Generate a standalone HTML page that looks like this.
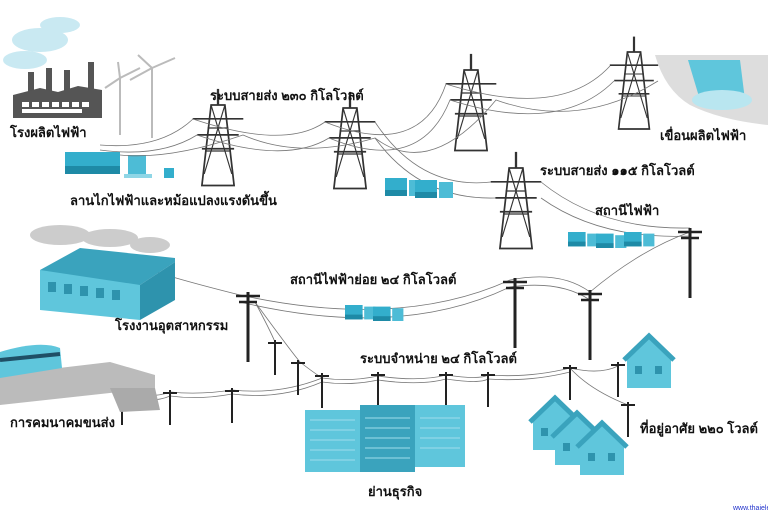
<!DOCTYPE html>
<html><head><meta charset="utf-8"><style>
html,body{margin:0;padding:0;background:#fff;}
svg{display:block}
text{font-family:"Liberation Sans","DejaVu Sans","Noto Sans CJK SC",sans-serif;font-weight:bold;font-size:13px;fill:#111}
</style></head><body>
<svg width="768" height="512" viewBox="0 0 768 512" xmlns="http://www.w3.org/2000/svg">
<defs>
<g id="tower">
<path d="M-6 0 L6 0 L14 70 L-14 70 Z" fill="none" stroke="#333" stroke-width="1.5"/>
<path d="M-6 0 L12 60 M6 0 L-12 60 M-9 20 L9 20 M-11 40 L11 40" stroke="#333" stroke-width="1" fill="none"/>
<path d="M-22 12 L22 12 M-18 26 L18 26 M-14 38 L14 38" stroke="#333" stroke-width="1.5"/>
<path d="M0 -14 L0 0" stroke="#333" stroke-width="2"/>
</g>
<g id="pole">
<path d="M0 0 L0 70" stroke="#222" stroke-width="3"/>
<path d="M-12 4 L12 4 M-9 10 L9 10" stroke="#222" stroke-width="2.5"/>
</g>
<g id="spole">
<path d="M0 0 L0 35" stroke="#222" stroke-width="2"/>
<path d="M-7 3 L7 3" stroke="#222" stroke-width="2"/>
</g>
<g id="house">
<path d="M0 20 L22 0 L44 20 L44 50 L0 50 Z" fill="#5fc6dc"/>
<path d="M-3 22 L22 -2 L47 22" stroke="#3aa3bd" stroke-width="5" fill="none"/>
<rect x="8" y="28" width="7" height="8" fill="#2e93ad"/><rect x="28" y="28" width="7" height="8" fill="#2e93ad"/>
</g>
<g id="xf">
<rect x="0" y="0" width="22" height="18" fill="#33aecc"/><rect x="0" y="12" width="22" height="6" fill="#1e8aa6"/>
<rect x="24" y="2" width="14" height="16" fill="#4dbcd6"/>
</g>
</defs>
<g fill="#c9e9f2"><ellipse cx="40" cy="40" rx="28" ry="12"/><ellipse cx="25" cy="60" rx="22" ry="9"/><ellipse cx="60" cy="25" rx="20" ry="8"/></g>
<g fill="#555"><rect x="28" y="72" width="6" height="25"/><rect x="46" y="68" width="6" height="30"/><rect x="64" y="70" width="6" height="28"/><rect x="88" y="62" width="6" height="35"/>
<path d="M13 95 L40 88 L58 92 L78 86 L102 90 L102 118 L13 118 Z"/></g>
<g fill="#fff"><rect x="22" y="102" width="7" height="5"/><rect x="32" y="102" width="7" height="5"/><rect x="42" y="102" width="7" height="5"/><rect x="52" y="102" width="7" height="5"/><rect x="62" y="102" width="7" height="5"/><rect x="72" y="102" width="7" height="5"/><rect x="82" y="102" width="7" height="5"/><rect x="22" y="109" width="60" height="4"/></g>
<g stroke="#bbb" stroke-width="2" fill="none"><path d="M120 78 L120 135 M152 68 L152 138 M120 78 L105 88 M120 78 L140 68 M120 78 L118 62 M152 68 L175 58 M152 68 L138 55 M152 68 L130 80"/></g>
<text x="10" y="137">โรงผลิตไฟฟ้า</text>
<rect x="65" y="152" width="55" height="22" fill="#33aecc"/><rect x="65" y="166" width="55" height="8" fill="#1e8aa6"/>
<rect x="128" y="155" width="18" height="22" fill="#4dbcd6"/><rect x="124" y="174" width="28" height="4" fill="#8fd6e6"/>
<rect x="164" y="168" width="10" height="10" fill="#33aecc"/>
<text x="70" y="205">ลานไกไฟฟ้าและหม้อแปลงแรงดันขึ้น</text>
<g transform="translate(218,105) scale(1.15)"><use href="#tower"/></g>
<g transform="translate(350,108) scale(1.15)"><use href="#tower"/></g>
<g transform="translate(471,70) scale(1.15)"><use href="#tower"/></g>
<g transform="translate(634,52) scale(1.1)"><use href="#tower"/></g>
<g transform="translate(516,168) scale(1.15)"><use href="#tower"/></g>
<g stroke="#777" stroke-width="0.8" fill="none">
<path d="M100 145 Q160 150 193 119 Q285 150 325 122 Q420 160 446 84 Q560 120 610 66"/>
<path d="M100 150 Q160 158 197 135 Q285 165 329 138 Q420 175 450 100 Q560 135 614 81"/>
<path d="M120 155 Q170 160 243 135 Q300 160 375 138 Q430 180 496 100 Q580 130 658 81"/>
<path d="M375 122 Q420 190 491 182 M375 138 Q420 200 495 198 M541 182 Q600 230 690 228 M541 198 Q600 240 690 236"/>
<path d="M240 295 Q400 330 510 280 Q560 270 590 292 Q640 250 690 232 M240 302 Q400 340 510 287 Q560 280 590 300"/>
<path d="M240 295 Q180 280 150 270 M255 302 Q270 330 275 342 M255 302 Q290 350 300 362"/>
<path d="M115 390 Q150 400 170 392 Q200 395 232 390 Q280 395 322 378 Q350 382 378 376 Q420 382 446 375 Q480 380 488 375 Q530 378 570 368 Q600 375 618 366"/>
<path d="M115 394 Q150 405 170 396 Q200 400 232 394 Q280 400 322 382 Q350 386 378 380 Q420 386 446 379 Q480 384 488 379 Q530 382 570 372"/>
<path d="M570 368 Q590 390 628 405 M300 362 Q310 370 322 378"/>
</g>
<text x="210" y="100">ระบบสายส่ง  ๒๓๐ กิโลโวลต์</text>
<path d="M655 55 L768 55 L768 125 Q720 120 690 105 Q665 90 655 55 Z" fill="#ddd"/>
<path d="M688 60 L740 60 L745 100 L700 100 Z" fill="#5fc6dc"/>
<ellipse cx="722" cy="100" rx="30" ry="10" fill="#b9e6f0"/>
<text x="660" y="140">เขื่อนผลิตไฟฟ้า</text>
<g transform="translate(385,178)"><use href="#xf"/><use href="#xf" x="30" y="2"/></g>
<text x="540" y="175">ระบบสายส่ง ๑๑๕ กิโลโวลต์</text>
<text x="595" y="215">สถานีไฟฟ้า</text>
<g transform="translate(568,232) scale(0.8)"><use href="#xf"/><use href="#xf" x="35" y="2"/><use href="#xf" x="70" y="0"/></g>
<use href="#pole" x="690" y="228"/>
<g fill="#ccc"><ellipse cx="60" cy="235" rx="30" ry="10"/><ellipse cx="110" cy="238" rx="28" ry="9"/><ellipse cx="150" cy="245" rx="20" ry="8"/></g>
<path d="M40 270 L80 248 L175 258 L175 262 L140 285 L40 285 Z" fill="#3aa3bd"/>
<path d="M40 270 L140 285 L140 320 L40 310 Z" fill="#5fc6dc"/>
<path d="M140 285 L175 262 L175 300 L140 320 Z" fill="#2e93ad"/>
<g fill="#2e93ad"><rect x="48" y="282" width="8" height="10"/><rect x="64" y="284" width="8" height="10"/><rect x="80" y="286" width="8" height="10"/><rect x="96" y="288" width="8" height="10"/><rect x="112" y="290" width="8" height="10"/></g>
<text x="115" y="330">โรงงานอุตสาหกรรม</text>
<use href="#pole" x="248" y="292"/>
<use href="#pole" x="515" y="278"/>
<use href="#pole" x="590" y="290"/>
<text x="290" y="284">สถานีไฟฟ้าย่อย ๒๔ กิโลโวลต์</text>
<g transform="translate(345,305) scale(0.8)"><use href="#xf"/><use href="#xf" x="35" y="2"/></g>
<use href="#spole" x="275" y="340"/><use href="#spole" x="298" y="360"/>
<use href="#spole" x="322" y="373"/><use href="#spole" x="378" y="372"/><use href="#spole" x="446" y="372"/><use href="#spole" x="488" y="372"/><use href="#spole" x="570" y="365"/><use href="#spole" x="618" y="362"/><use href="#spole" x="628" y="402"/>
<use href="#spole" x="122" y="390"/><use href="#spole" x="170" y="390"/><use href="#spole" x="232" y="388"/>
<text x="360" y="363">ระบบจำหน่าย ๒๔ กิโลโวลต์</text>
<path d="M0 375 L110 362 L155 375 L155 388 L0 405 Z" fill="#bbb"/>
<path d="M110 388 L155 388 L160 410 L120 412 Z" fill="#aaa"/>
<path d="M0 352 Q40 340 60 348 L62 368 L0 378 Z" fill="#5fc6dc"/>
<path d="M0 360 L60 354" stroke="#1f4f66" stroke-width="4"/>
<text x="10" y="427">การคมนาคมขนส่ง</text>
<g><rect x="305" y="410" width="55" height="62" fill="#5fc6dc"/><rect x="360" y="405" width="55" height="67" fill="#3aa3bd"/><rect x="415" y="405" width="50" height="62" fill="#5fc6dc"/>
<g stroke="#9fdcec" stroke-width="1"><path d="M310 420 H355 M310 430 H355 M310 440 H355 M310 450 H355 M310 460 H355 M365 418 H410 M365 428 H410 M365 438 H410 M365 448 H410 M365 458 H410 M420 418 H460 M420 428 H460 M420 438 H460 M420 448 H460"/></g></g>
<text x="368" y="496">ย่านธุรกิจ</text>
<use href="#house" x="627" y="338"/>
<use href="#house" x="533" y="400"/>
<use href="#house" x="555" y="415"/>
<use href="#house" x="580" y="425"/>
<text x="640" y="433">ที่อยู่อาศัย ๒๒๐ โวลต์</text>
<text x="733" y="510" style="font-size:7px;fill:#2233cc;font-weight:normal">www.thaielec</text>
</svg>
</body></html>
